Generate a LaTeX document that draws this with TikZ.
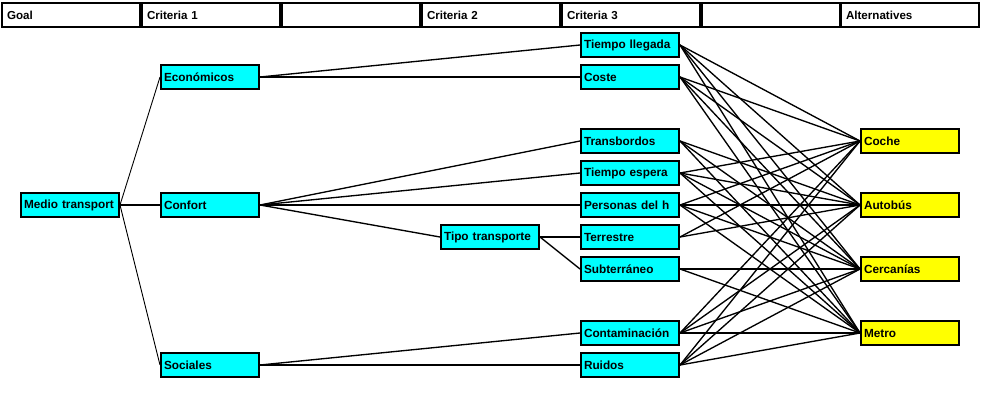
\documentclass[tikz,border=0pt]{standalone}
\usepackage{fontspec}
\setmainfont{Liberation Sans}
\definecolor{boxcyan}{RGB}{0,255,255}
\definecolor{boxyellow}{RGB}{255,255,0}
\tikzset{
  hdr/.style={draw=black, line width=2pt, minimum width=138pt, minimum height=24pt,
    text width=128pt, inner xsep=5pt, inner ysep=0pt, align=left, font=\bfseries\fontsize{11.6}{13}\selectfont},
  box/.style={draw=black, line width=2pt, minimum width=98pt, minimum height=24pt,
    text width=92pt, inner xsep=3pt, inner ysep=0pt, align=left, font=\bfseries\fontsize{11.8}{13}\selectfont},
  crit/.style={box, fill=boxcyan},
  alt/.style={box, fill=boxyellow},
  link/.style={line width=1.35pt, black},
  thin/.style={line width=0.9pt, black}
}
\begin{document}
\begin{tikzpicture}[x=1pt, y=-1pt]
\useasboundingbox (0,0) rectangle (981,402);
% header
\node[hdr] (h1) at (71,15) {Goal};
\node[hdr] (h2) at (211,15) {Criteria 1};
\node[hdr] (h3) at (351,15) {};
\node[hdr] (h4) at (491,15) {Criteria 2};
\node[hdr] (h5) at (631,15) {Criteria 3};
\node[hdr] (h6) at (771,15) {};
\node[hdr] (h7) at (910,15) {Alternatives};
% nodes
\node[crit] (medio) at (70,205) {Medio transport};
\node[crit] (econ) at (210,77) {Económicos};
\node[crit] (confort) at (210,205) {Confort};
\node[crit] (soc) at (210,365) {Sociales};
\node[crit] (tipo) at (490,237) {Tipo transporte};
\node[crit] (tll) at (630,45) {Tiempo llegada};
\node[crit] (coste) at (630,77) {Coste};
\node[crit] (transb) at (630,141) {Transbordos};
\node[crit] (tesp) at (630,173) {Tiempo espera};
\node[crit] (pers) at (630,205) {Personas del h};
\node[crit] (terr) at (630,237) {Terrestre};
\node[crit] (subt) at (630,269) {Subterráneo};
\node[crit] (contam) at (630,333) {Contaminación};
\node[crit] (ruidos) at (630,365) {Ruidos};
\node[alt] (coche) at (910,141) {Coche};
\node[alt] (autobus) at (910,205) {Autobús};
\node[alt] (cerc) at (910,269) {Cercanías};
\node[alt] (metro) at (910,333) {Metro};
% goal level
\draw[thin] (medio.east) -- (econ.west);
\draw[link] (medio.east) -- (confort.west);
\draw[thin] (medio.east) -- (soc.west);
% criteria level
\draw[link] (econ.east) -- (tll.west);
\draw[link] (econ.east) -- (coste.west);
\draw[link] (confort.east) -- (transb.west);
\draw[link] (confort.east) -- (tesp.west);
\draw[link] (confort.east) -- (pers.west);
\draw[link] (confort.east) -- (tipo.west);
\draw[link] (tipo.east) -- (terr.west);
\draw[link] (tipo.east) -- (subt.west);
\draw[link] (soc.east) -- (contam.west);
\draw[link] (soc.east) -- (ruidos.west);
% alternatives
\foreach \s in {tll,coste,tesp,pers,contam,ruidos}{
  \foreach \a in {coche,autobus,cerc,metro}{
    \draw[link] (\s.east) -- (\a.west);
  }
}
\foreach \a in {autobus,cerc,metro}{\draw[link] (transb.east) -- (\a.west);}
\foreach \a in {coche,autobus}{\draw[link] (terr.east) -- (\a.west);}
\foreach \a in {cerc,metro}{\draw[link] (subt.east) -- (\a.west);}
\end{tikzpicture}
\end{document}
